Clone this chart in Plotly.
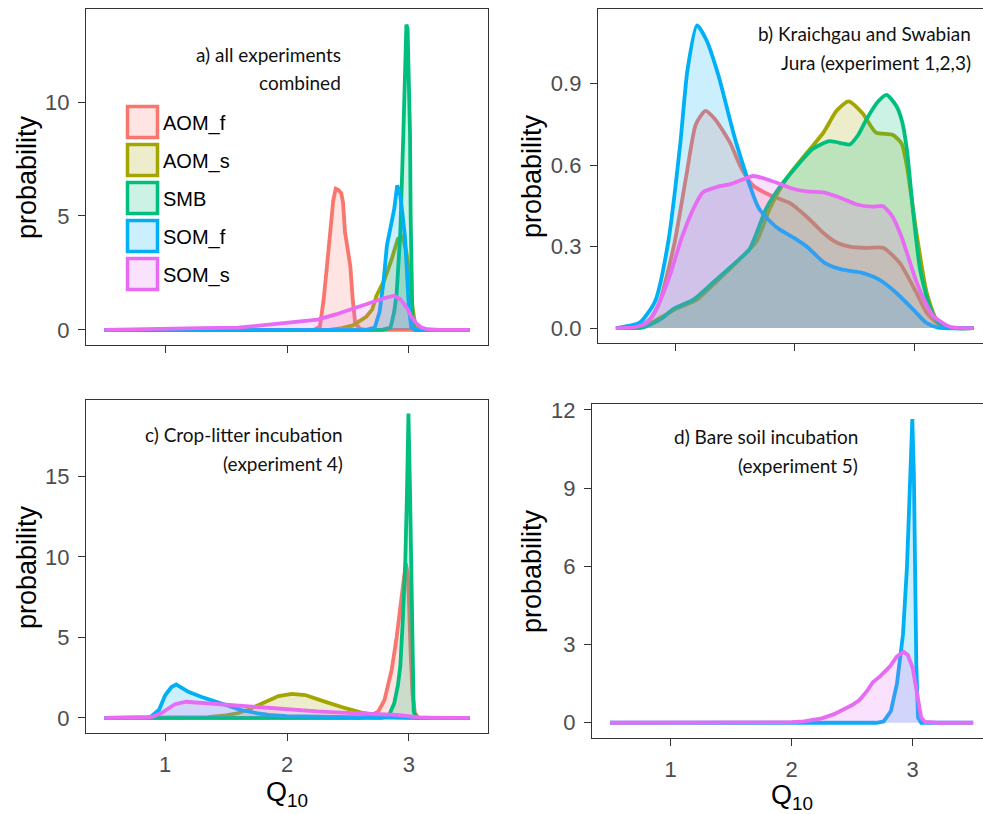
import plotly.graph_objects as go

# ---------------- data ----------------
SERIES = ["AOM_f", "AOM_s", "SMB", "SOM_f", "SOM_s"]
COLORS = ["#F8766D", "#A3A500", "#00BF7D", "#00B0F6", "#E76BF3"]

# panel a) all experiments combined
a_AOM_f_x = [0.5, 2.22, 2.27, 2.30, 2.33, 2.355, 2.38, 2.40, 2.42, 2.445, 2.46, 2.476, 2.505, 2.52, 2.54, 2.56, 2.60, 2.65, 3.5]
a_AOM_f_y = [0, 0, 0.15, 1.3, 2.9, 4.25, 5.7, 6.2, 6.15, 6.0, 5.6, 4.3, 3.4, 2.8, 1.3, 0.3, 0.05, 0, 0]
a_AOM_s_x = [0.5, 2.35, 2.45, 2.54, 2.65, 2.70, 2.735, 2.80, 2.857, 2.91, 2.95, 2.98, 3.01, 3.03, 3.05, 3.08, 3.15, 3.5]
a_AOM_s_y = [0, 0, 0.08, 0.2, 0.58, 0.9, 1.5, 2.2, 3.07, 4.0, 4.1, 3.4, 2.2, 1.0, 0.3, 0.03, 0, 0]
a_SMB_x = [0.5, 2.78, 2.85, 2.88, 2.90, 2.93, 2.955, 2.97, 2.98, 2.99, 3.0, 3.01, 3.015, 3.02, 3.03, 3.05, 3.5]
a_SMB_y = [0, 0, 0.1, 0.8, 1.6, 4.25, 8.6, 11.5, 13.4, 13.2, 11.5, 8.6, 5.0, 2.0, 0.4, 0, 0]
a_SOM_f_x = [0.5, 2.65, 2.72, 2.76, 2.79, 2.82, 2.85, 2.88, 2.905, 2.93, 2.95, 2.97, 2.985, 3.0, 3.02, 3.06, 3.5]
a_SOM_f_y = [0, 0, 0.1, 0.8, 2.0, 3.7, 4.5, 5.3, 6.35, 5.9, 5.0, 4.0, 2.5, 1.0, 0.1, 0, 0]
a_SOM_s_x = [0.5, 0.7, 1.0, 1.3, 1.6, 1.8, 2.0, 2.1, 2.25, 2.4, 2.55, 2.7, 2.8, 2.88, 2.93, 2.98, 3.02, 3.06, 3.1, 3.15, 3.25, 3.5]
a_SOM_s_y = [0, 0.01, 0.05, 0.08, 0.1, 0.2, 0.3, 0.35, 0.45, 0.68, 0.95, 1.25, 1.4, 1.5, 1.35, 1.0, 0.6, 0.3, 0.12, 0.03, 0, 0]

# panel b) Kraichgau and Swabian Jura
b_AOM_f_x = [0.5, 0.7, 0.8, 0.87, 0.99, 1.09, 1.17, 1.25, 1.33, 1.46, 1.55, 1.65, 1.79, 1.96, 2.10, 2.24, 2.35, 2.46, 2.6, 2.74, 2.88, 3.02, 3.1, 3.16, 3.25, 3.5]
b_AOM_f_y = [0, 0.005, 0.04, 0.1, 0.31, 0.56, 0.75, 0.80, 0.77, 0.68, 0.59, 0.525, 0.49, 0.46, 0.41, 0.35, 0.315, 0.30, 0.295, 0.296, 0.24, 0.13, 0.06, 0.03, 0.003, 0]
b_AOM_s_x = [0.5, 0.7, 0.8, 0.9, 1.0, 1.18, 1.34, 1.54, 1.68, 1.79, 1.93, 2.1, 2.24, 2.35, 2.45, 2.57, 2.68, 2.82, 2.895, 2.94, 3.02, 3.106, 3.19, 3.3, 3.5]
b_AOM_s_y = [0, 0.002, 0.02, 0.045, 0.07, 0.105, 0.17, 0.255, 0.32, 0.44, 0.55, 0.645, 0.72, 0.8, 0.835, 0.79, 0.72, 0.712, 0.68, 0.596, 0.35, 0.13, 0.03, 0.002, 0]
b_SMB_x = [0.5, 0.72, 0.8, 0.9, 0.98, 1.15, 1.32, 1.5, 1.62, 1.76, 1.875, 2.04, 2.15, 2.29, 2.4, 2.46, 2.53, 2.6, 2.7, 2.77, 2.854, 2.9, 2.94, 2.99, 3.05, 3.12, 3.19, 3.26, 3.5]
b_SMB_y = [0, 0.002, 0.015, 0.04, 0.07, 0.105, 0.17, 0.24, 0.29, 0.44, 0.52, 0.608, 0.66, 0.688, 0.68, 0.676, 0.71, 0.768, 0.835, 0.859, 0.816, 0.76, 0.657, 0.437, 0.217, 0.094, 0.027, 0.003, 0]
b_SOM_f_x = [0.5, 0.7, 0.83, 0.94, 1.04, 1.10, 1.18, 1.26, 1.36, 1.51, 1.70, 1.85, 2.0, 2.1, 2.25, 2.4, 2.55, 2.7, 2.85, 3.0, 3.1, 3.2, 3.5]
b_SOM_f_y = [0, 0.02, 0.1, 0.32, 0.68, 0.95, 1.115, 1.06, 0.93, 0.68, 0.44, 0.37, 0.33, 0.3, 0.24, 0.215, 0.205, 0.18, 0.13, 0.065, 0.02, 0.002, 0]
b_SOM_s_x = [0.5, 0.65, 0.76, 0.85, 0.95, 1.05, 1.15, 1.23, 1.35, 1.46, 1.55, 1.65, 1.75, 1.85, 1.97, 2.10, 2.24, 2.38, 2.52, 2.65, 2.74, 2.82, 2.9, 3.02, 3.1, 3.16, 3.3, 3.5]
b_SOM_s_y = [0, 0.003, 0.02, 0.08, 0.19, 0.33, 0.44, 0.50, 0.52, 0.53, 0.545, 0.56, 0.55, 0.535, 0.515, 0.503, 0.50, 0.48, 0.455, 0.447, 0.449, 0.41, 0.33, 0.17, 0.09, 0.045, 0.005, 0]

# panel c) crop-litter incubation
c_AOM_f_x = [0.5, 2.6, 2.68, 2.75, 2.8, 2.86, 2.9, 2.935, 2.96, 2.975, 2.99, 3.0, 3.015, 3.03, 3.05, 3.08, 3.5]
c_AOM_f_y = [0, 0, 0.1, 0.4, 1.1, 3.0, 5.0, 7.3, 9.0, 9.6, 9.0, 7.5, 4.0, 1.5, 0.3, 0, 0]
c_AOM_s_x = [0.5, 1.2, 1.35, 1.5, 1.6, 1.68, 1.82, 1.93, 2.04, 2.15, 2.31, 2.4, 2.48, 2.61, 2.7, 2.8, 2.9, 3.0, 3.5]
c_AOM_s_y = [0, 0, 0.05, 0.15, 0.3, 0.5, 1.0, 1.35, 1.49, 1.42, 1.01, 0.78, 0.6, 0.33, 0.2, 0.1, 0.03, 0, 0]
c_SMB_x = [0.5, 2.78, 2.84, 2.88, 2.91, 2.93, 2.95, 2.97, 2.985, 2.997, 3.01, 3.02, 3.03, 3.04, 3.06, 3.5]
c_SMB_y = [0, 0, 0.2, 0.9, 2.0, 3.2, 6.0, 9.4, 14.0, 18.9, 14.0, 9.4, 2.5, 0.4, 0, 0]
c_SOM_f_x = [0.5, 0.8, 0.88, 0.95, 1.0, 1.05, 1.09, 1.14, 1.19, 1.3, 1.46, 1.62, 1.75, 1.85, 2.0, 2.3, 2.5, 2.8, 3.5]
c_SOM_f_y = [0, 0.01, 0.05, 0.5, 1.4, 1.9, 2.08, 1.85, 1.62, 1.3, 0.9, 0.5, 0.3, 0.18, 0.1, 0.05, 0.02, 0.01, 0]
c_SOM_s_x = [0.5, 0.85, 0.9, 0.97, 1.02, 1.08, 1.17, 1.3, 1.46, 1.6, 1.76, 1.9, 2.04, 2.25, 2.45, 2.65, 2.8, 2.9, 3.0, 3.08, 3.2, 3.5]
c_SOM_s_y = [0, 0.01, 0.08, 0.3, 0.55, 0.85, 1.0, 0.93, 0.8, 0.72, 0.65, 0.57, 0.5, 0.4, 0.33, 0.28, 0.25, 0.18, 0.1, 0.03, 0.005, 0]

# panel d) bare soil incubation (only SOM pools)
d_SOM_f_x = [0.5, 2.7, 2.76, 2.82, 2.87, 2.92, 2.953, 2.98, 2.997, 3.01, 3.022, 3.03, 3.044, 3.07, 3.5]
d_SOM_f_y = [0, 0, 0.05, 0.45, 1.5, 3.4, 6.0, 9.2, 11.65, 9.5, 5.5, 2.2, 0.2, 0, 0]
d_SOM_s_x = [0.5, 1.8, 2.0, 2.1, 2.25, 2.35, 2.42, 2.5, 2.56, 2.62, 2.67, 2.73, 2.81, 2.87, 2.925, 2.96, 3.0, 3.03, 3.05, 3.07, 3.1, 3.2, 3.5]
d_SOM_s_y = [0, 0, 0.02, 0.05, 0.17, 0.33, 0.49, 0.68, 0.87, 1.2, 1.55, 1.78, 2.15, 2.55, 2.72, 2.6, 2.1, 1.2, 0.6, 0.2, 0.03, 0, 0]

X_TICKS = [1, 2, 3]
A_YTICKS = [0, 5, 10]
B_YTICKS = [0.0, 0.3, 0.6, 0.9]
C_YTICKS = [0, 5, 10, 15]
D_YTICKS = [0, 3, 6, 9, 12]

PANEL_TEXT = {
    "a": ["a) all experiments", "combined"],
    "b": ["b) Kraichgau and Swabian", "Jura (experiment 1,2,3)"],
    "c": ["c) Crop-litter incubation", "(experiment 4)"],
    "d": ["d) Bare soil incubation", "(experiment 5)"],
}

# ---------------- figure ----------------
W, H = 983, 814


def fx(p):
    return p / W


def fy(p):
    return 1 - p / H


def rgba(h, a):
    h = h.lstrip("#")
    r, g, b = int(h[0:2], 16), int(h[2:4], 16), int(h[4:6], 16)
    return f"rgba({r},{g},{b},{a})"


panels = {
    "a": {"AOM_f": (a_AOM_f_x, a_AOM_f_y), "AOM_s": (a_AOM_s_x, a_AOM_s_y), "SMB": (a_SMB_x, a_SMB_y),
          "SOM_f": (a_SOM_f_x, a_SOM_f_y), "SOM_s": (a_SOM_s_x, a_SOM_s_y)},
    "b": {"AOM_f": (b_AOM_f_x, b_AOM_f_y), "AOM_s": (b_AOM_s_x, b_AOM_s_y), "SMB": (b_SMB_x, b_SMB_y),
          "SOM_f": (b_SOM_f_x, b_SOM_f_y), "SOM_s": (b_SOM_s_x, b_SOM_s_y)},
    "c": {"AOM_f": (c_AOM_f_x, c_AOM_f_y), "AOM_s": (c_AOM_s_x, c_AOM_s_y), "SMB": (c_SMB_x, c_SMB_y),
          "SOM_f": (c_SOM_f_x, c_SOM_f_y), "SOM_s": (c_SOM_s_x, c_SOM_s_y)},
    "d": {"SOM_f": (d_SOM_f_x, d_SOM_f_y), "SOM_s": (d_SOM_s_x, d_SOM_s_y)},
}

# domains in pixels (left, right, top, bottom) and axis ranges
geom = {
    "a": dict(px=(86, 488), py=(9, 345), xr=[0.35, 3.65], yr=[-0.66, 14.08], yt=A_YTICKS, fmt="d", xl=False),
    "b": dict(px=(598, 983), py=(9, 343), xr=[0.35, 3.578], yr=[-0.055, 1.175], yt=B_YTICKS, fmt=".1f", xl=False),
    "c": dict(px=(86, 488), py=(400, 733), xr=[0.35, 3.65], yr=[-0.94, 19.74], yt=C_YTICKS, fmt="d", xl=True),
    "d": dict(px=(592, 983), py=(404, 738), xr=[0.35, 3.581], yr=[-0.585, 12.23], yt=D_YTICKS, fmt="d", xl=True),
}

fig = go.Figure()
layout = dict(
    width=W, height=H, margin=dict(l=0, r=0, t=0, b=0),
    paper_bgcolor="white", plot_bgcolor="white", showlegend=False,
    font=dict(family="Liberation Sans, Arial, sans-serif", color="#000000"),
)

AX_COL = "#333333"
TICK_FONT = dict(family="Liberation Sans, Arial, sans-serif", size=22, color="#4D4D4D")

for i, key in enumerate(["a", "b", "c", "d"], start=1):
    g = geom[key]
    xa = "x" if i == 1 else f"x{i}"
    ya = "y" if i == 1 else f"y{i}"
    for name, col in zip(SERIES, COLORS):
        if name not in panels[key]:
            continue
        xs, ys = panels[key][name]
        fig.add_trace(go.Scatter(
            x=xs, y=ys, xaxis=xa, yaxis=ya, mode="lines", name=name,
            line=dict(color=col, width=3.8, shape="spline" if key == "b" else "linear", smoothing=0.6),
            fill="tozeroy", fillcolor=rgba(col, 0.2), hoverinfo="skip",
        ))
    right_cut = g["px"][1] >= W
    axx = dict(
        domain=[fx(g["px"][0]), fx(g["px"][1])], range=g["xr"], anchor=ya,
        tickvals=X_TICKS, ticks="outside", ticklen=7, tickwidth=1.3, tickcolor=AX_COL,
        showline=True, linecolor=AX_COL, linewidth=1.3, mirror=True,
        showgrid=False, zeroline=False, automargin=False, showticklabels=g["xl"],
    )
    if g["xl"]:
        axx.update(ticktext=[str(t) for t in X_TICKS], tickfont=TICK_FONT, ticklabelstandoff=4)
    layout["xaxis" if i == 1 else f"xaxis{i}"] = axx
    layout["yaxis" if i == 1 else f"yaxis{i}"] = dict(
        domain=[fy(g["py"][1]), fy(g["py"][0])], range=g["yr"], anchor=xa,
        tickvals=g["yt"], tickformat=g["fmt"],
        ticks="outside", ticklen=7, tickwidth=1.3, tickcolor=AX_COL,
        showline=True, linecolor=AX_COL, linewidth=1.3, mirror=not right_cut,
        showgrid=False, zeroline=False, tickfont=TICK_FONT, automargin=False,
        ticklabelstandoff=4,
    )

fig.update_layout(**layout)

# panel captions
ANN_FONT = dict(family="Lato, Carlito, sans-serif", size=19, color="#111111")
cap_pos = {"a": (343, 55, 82), "b": (973, 34, 62), "c": (345, 434, 463), "d": (860, 436, 465)}
for key, (xr, y1, y2) in cap_pos.items():
    for txt, yy in zip(PANEL_TEXT[key], (y1, y2)):
        fig.add_annotation(x=fx(xr), y=fy(yy), xref="paper", yref="paper", text=txt,
                           showarrow=False, xanchor="right", yanchor="middle", font=ANN_FONT)

# axis titles
TITLE_FONT = dict(family="Liberation Sans, Arial, sans-serif", size=27, color="#000000")
for (xc, yc) in [(27, 177), (532, 176), (27, 567), (532, 571)]:
    fig.add_annotation(x=fx(xc), y=fy(yc), xref="paper", yref="paper", text="probability",
                       textangle=-90, showarrow=False, xanchor="center", yanchor="middle", font=TITLE_FONT)
for (xc, yc) in [(287, 794), (792, 797)]:
    fig.add_annotation(x=fx(xc), y=fy(yc), xref="paper", yref="paper", text="Q<sub>10</sub>",
                       showarrow=False, xanchor="center", yanchor="middle", font=TITLE_FONT)

# legend (inside panel a)
LEG_FONT = dict(family="Liberation Sans, Arial, sans-serif", size=20, color="#000000")
leg_centers = [122, 160, 198, 236, 274]
for name, col, yc in zip(SERIES, COLORS, leg_centers):
    fig.add_shape(type="rect", xref="paper", yref="paper",
                  x0=fx(127.5), x1=fx(157.5), y0=fy(yc + 15.5), y1=fy(yc - 15.5),
                  line=dict(color=col, width=3.5), fillcolor=rgba(col, 0.2))
    fig.add_annotation(x=fx(161), y=fy(yc + 1), xref="paper", yref="paper", text=name,
                       showarrow=False, xanchor="left", yanchor="middle", font=LEG_FONT)

fig.write_html("out.html")
